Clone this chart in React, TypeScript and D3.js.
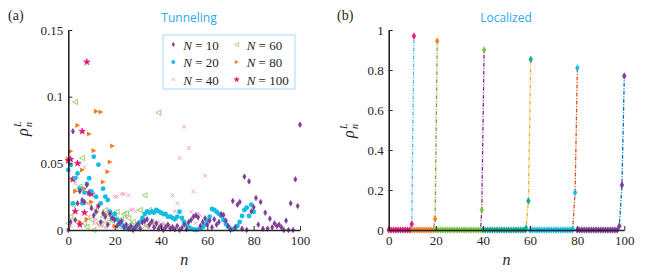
import React, { useEffect, useRef } from "react";
import * as d3 from "d3";

// panel (a): rho_n^L for n = 0..len-1, one list per N
const legendN = ["10", "20", "40", "60", "80", "100"];

const tunnelN10 = [
  0.0, 0.006, 0.074, 0.0075, 0.02, 0.029, 0.0225, 0.021, 0.0337, 0.0275,
  0.0163, 0.011, 0.0137, 0.018, 0.006, 0.0125, 0.01, 0.004, 0.012, 0.0088,
  0.0075, 0.003, 0.005, 0.0068, 0.002, 0.004, 0.001, 0.003, 0.0, 0.002,
  0.0045, 0.001, 0.006, 0.0068, 0.008, 0.004, 0.0065, 0.002, 0.005, 0.001,
  0.003, 0.0, 0.002, 0.004, 0.001, 0.002, 0.0005, 0.003, 0.0, 0.0015,
  0.004, 0.0005, 0.006, 0.0075, 0.01, 0.011, 0.0095, 0.003, 0.006, 0.0088,
  0.004, 0.007, 0.002, 0.008, 0.004, 0.006, 0.0118, 0.0113, 0.007, 0.003,
  0.0, 0.0218, 0.002, 0.019, 0.021, 0.001, 0.04, 0.0, 0.0365, 0.014,
  0.017, 0.024, 0.004, 0.021, 0.001, 0.013, 0.001, 0.0085, 0.002, 0.005,
  0.003, 0.004, 0.002, 0.0, 0.007, 0.0, 0.02, 0.0, 0.038, 0.018, 0.079,
];
const tunnelN20 = [
  0.045, 0.0488, 0.02, 0.0388, 0.0425, 0.031, 0.02, 0.028, 0.0345, 0.0388,
  0.029, 0.055, 0.025, 0.049, 0.02, 0.031, 0.025, 0.0225, 0.0137, 0.0088,
  0.012, 0.008, 0.006, 0.004, 0.003, 0.0013, 0.001, 0.0005, 0.0015, 0.002,
  0.004, 0.006, 0.009, 0.012, 0.014, 0.013, 0.014, 0.013, 0.015, 0.014,
  0.013, 0.012, 0.012, 0.01, 0.01, 0.009, 0.008, 0.01, 0.0137, 0.009,
  0.006, 0.004, 0.002, 0.001, 0.0005, 0.0, 0.0005, 0.001, 0.002, 0.004,
  0.007, 0.01, 0.0158, 0.015, 0.0137, 0.012, 0.0105, 0.0075, 0.0045, 0.0025,
  0.001, 0.0005, 0.001, 0.003, 0.006, 0.0105, 0.015, 0.0167, 0.0105, 0.019,
  0.0137,
];
const tunnelN40 = [
  0.0, 0.003, 0.02, 0.035, 0.04, 0.05, 0.03, 0.047, 0.02, 0.01,
  0.017, 0.005, 0.008, 0.004, 0.003, 0.006, 0.002, 0.015, 0.008, 0.012,
  0.025, 0.025, 0.006, 0.027, 0.027, 0.01, 0.026, 0.015, 0.0155, 0.014,
  0.002, 0.004, 0.001, 0.006, 0.003, 0.002, 0.005, 0.003, 0.004, 0.006,
  0.003, 0.005, 0.004, 0.002, 0.003, 0.026, 0.014, 0.02, 0.054, 0.007,
  0.0775, 0.004, 0.0613, 0.0137, 0.029, 0.005, 0.0125, 0.011, 0.003, 0.0407,
  0.006,
];
const tunnelN60 = [
  0.005, 0.01, 0.0187, 0.096, 0.03, 0.0325, 0.054, 0.005, 0.0025, 0.02,
  0.008, 0.0, 0.015, 0.005, 0.004, 0.01, 0.015, 0.006, 0.011, 0.007,
  0.009, 0.0137, 0.003, 0.008, 0.012, 0.0125, 0.009, 0.004, 0.006, 0.002,
  0.004, 0.015, 0.005, 0.026, 0.003, 0.015, 0.006, 0.004, 0.002, 0.088,
  0.003,
];
const tunnelN80 = [
  0.053, 0.059, 0.038, 0.029, 0.0785, 0.006, 0.045, 0.031, 0.008, 0.072,
  0.021, 0.0595, 0.089, 0.0175, 0.0885, 0.036, 0.012, 0.0437, 0.051, 0.063,
  0.003,
];
const tunnelN100 = [
  0.052, 0.053, 0.038, 0.014, 0.05, 0.004, 0.074, 0.013, 0.126, 0.028, 0.027,
];

// panel (b): each block is flat (zero) from its start, then rises at its tail
const locStart = [0, 10, 20, 40, 60, 80];
const locTailX = [
  [9.8, 10.7],
  [19.7, 20.6],
  [39.5, 40.5],
  [58.3, 59.3, 60.3],
  [78.1, 79.1, 80.1],
  [97.9, 99, 100],
];
const locTailY = [
  [0.03, 0.97],
  [0.055, 0.945],
  [0.1, 0.9],
  [0.01, 0.145, 0.853],
  [0.005, 0.187, 0.81],
  [0.02, 0.225, 0.77],
];

const yTicksA = [0, 0.05, 0.1, 0.15];
const yTicksB = [0, 0.2, 0.4, 0.6, 0.8, 1];
const xTicks = [0, 20, 40, 60, 80, 100];

const serif = "'Liberation Serif', 'Times New Roman', 'DejaVu Serif', serif";
const sans = "'Open Sans', 'Noto Sans', sans-serif";
const ink = "#262626";

const C = {
  purple: "#7E3A96",
  cyan: "#12BDE8",
  pink: "#F3A0C2",
  green: "#8CCB5E",
  orange: "#F47B20",
  magenta: "#E2126F",
};
const locMarker = ["#E5197A", "#F28123", "#7CC242", "#0FA991", "#14BDE8", "#7F3A98"];
const locLine = ["#4DBEEE", "#77AC30", "#7E2F8E", "#EDB120", "#D95319", "#0072BD"];

const diamond = d3.symbol(d3.symbolDiamond, 9)();
const diamondB = d3.symbol(d3.symbolDiamond, 12)();
const hexagram = d3.symbol(d3.symbolStar, 13)();
const triRight = "M-2.2,-2.6L2.6,0L-2.2,2.6Z";
const triLeft = "M2.2,-2.6L-2.6,0L2.2,2.6Z";
const cross = "M-1.8,-1.8L1.8,1.8M-1.8,1.8L1.8,-1.8";

type Style = { d: string; fill: string; stroke: string; sw: number };
const styles: Record<string, Style> = {
  "10": { d: diamond, fill: C.purple, stroke: C.purple, sw: 0.6 },
  "20": { d: d3.symbol(d3.symbolCircle, 18)(), fill: C.cyan, stroke: "none", sw: 0 },
  "40": { d: cross, fill: "none", stroke: C.pink, sw: 1 },
  "60": { d: triLeft, fill: "none", stroke: C.green, sw: 0.9 },
  "80": { d: triRight, fill: C.orange, stroke: "none", sw: 0 },
  "100": { d: hexagram, fill: C.magenta, stroke: C.magenta, sw: 0.6 },
};

const xA = d3.scaleLinear().domain([0, 100]).range([68.3, 300]);
const yA = d3.scaleLinear().domain([0, 0.15]).range([230, 30]);
const xB = d3.scaleLinear().domain([0, 100]).range([388.7, 624.3]);
const yB = d3.scaleLinear().domain([0, 1]).range([230, 30]);

function Axes({ x, y, yTicks, yFmt }: any) {
  const xRef = useRef<SVGGElement>(null);
  const yRef = useRef<SVGGElement>(null);
  useEffect(() => {
    const ax = d3.axisBottom(x).tickValues(xTicks).tickSizeInner(-4).tickSizeOuter(0).tickPadding(6);
    const ay = d3.axisLeft(y).tickValues(yTicks).tickSizeInner(-4).tickSizeOuter(0).tickPadding(5).tickFormat(yFmt);
    for (const [ref, a] of [[xRef, ax], [yRef, ay]] as any) {
      const g = d3.select(ref.current);
      g.call(a);
      g.attr("font-family", serif).attr("font-size", 13);
      g.select(".domain").attr("stroke", ink).attr("stroke-width", 1.6);
      g.selectAll(".tick line").attr("stroke", ink).attr("stroke-width", 1);
      g.selectAll(".tick text").attr("fill", ink);
    }
  }, [x, y, yTicks, yFmt]);
  return (
    <g>
      <g ref={xRef} transform={`translate(0,${y(0)})`} />
      <g ref={yRef} transform={`translate(${x(0)},0)`} />
    </g>
  );
}

function YLabel({ cx, cy }: { cx: number; cy: number }) {
  return (
    <text transform={`translate(${cx},${cy}) rotate(-90)`} fontFamily={serif} fontStyle="italic" fill={ink}>
      <tspan x={-8} y={0} fontSize={16}>ρ</tspan>
      <tspan x={1} y={4} fontSize={10}>n</tspan>
      <tspan x={1} y={-7} fontSize={10}>L</tspan>
    </text>
  );
}

export default function App() {
  const tunnel: [string, number[]][] = [
    ["60", tunnelN60],
    ["40", tunnelN40],
    ["80", tunnelN80],
    ["100", tunnelN100],
    ["20", tunnelN20],
    ["10", tunnelN10],
  ];

  const blocks = locStart.map((s, i) => {
    const flatEnd = Math.ceil(locTailX[i][0]) - 1;
    const pts: [number, number][] = d3.range(s, flatEnd + 1).map((n) => [n, 0]);
    locTailX[i].forEach((tx, j) => pts.push([tx, locTailY[i][j]]));
    return pts;
  });
  const lineB = d3
    .line<[number, number]>()
    .x((d) => xB(d[0]))
    .y((d) => yB(d[1]));

  const fmtA = (d: number) => (d === 0 ? "0" : String(d));
  const fmtB = (d: number) => String(d);

  return (
    <svg width={654} height={273} style={{ position: "absolute", left: 0, top: 0, background: "#fff" }}>
      {/* panel labels and titles */}
      <text x={8} y={20} fontFamily={serif} fontSize={14} fill={ink}>(a)</text>
      <text x={337} y={20} fontFamily={serif} fontSize={14} fill={ink}>(b)</text>
      <text x={189} y={22} textAnchor="middle" fontFamily={sans} fontSize={12} fill="#2AA9EE">Tunneling</text>
      <text x={506} y={22} textAnchor="middle" fontFamily={sans} fontSize={12} fill="#2AA9EE">Localized</text>

      {/* panel (a) */}
      <g>
        {tunnel.map(([key, vals]) => {
          const st = styles[key];
          return (
            <g key={key}>
              {vals.map((v, n) => (
                <path
                  key={n}
                  d={st.d}
                  transform={`translate(${xA(n)},${yA(v)})`}
                  fill={st.fill}
                  stroke={st.stroke}
                  strokeWidth={st.sw}
                />
              ))}
            </g>
          );
        })}
        <Axes x={xA} y={yA} yTicks={yTicksA} yFmt={fmtA} />
        <YLabel cx={28} cy={128} />
        <text x={xA(50)} y={265} textAnchor="middle" fontFamily={serif} fontStyle="italic" fontSize={16} fill={ink}>n</text>

        {/* legend */}
        <rect x={163} y={35} width={132} height={54} fill="#fff" stroke="#A9D9F2" strokeWidth={1} />
        {legendN.map((k, i) => {
          const col = i < 3 ? 0 : 1;
          const row = i % 3;
          const mx = col === 0 ? 173.3 : 236.7;
          const my = 44.5 + row * 17.5;
          const st = styles[k];
          return (
            <g key={k}>
              <path d={st.d} transform={`translate(${mx},${my}) scale(0.8)`} fill={st.fill} stroke={st.stroke} strokeWidth={st.sw} />
              <text x={mx + 10} y={my + 5} fontFamily={serif} fontSize={13} fill={ink}>
                <tspan fontStyle="italic">N</tspan>
                {" = " + k}
              </text>
            </g>
          );
        })}
      </g>

      {/* panel (b) */}
      <g>
        {blocks.map((pts, i) => (
          <g key={i}>
            <path d={lineB(pts) || ""} fill="none" stroke={locLine[i]} strokeWidth={1.3} strokeDasharray="4,1.5,1,1.5" />
            {pts.map((p, j) => (
              <path
                key={j}
                d={diamondB}
                transform={`translate(${xB(p[0])},${yB(p[1])})`}
                fill={locMarker[i]}
                stroke={locMarker[i]}
                strokeWidth={0.6}
              />
            ))}
          </g>
        ))}
        <Axes x={xB} y={yB} yTicks={yTicksB} yFmt={fmtB} />
        <YLabel cx={354} cy={130} />
        <text x={xB(50)} y={265} textAnchor="middle" fontFamily={serif} fontStyle="italic" fontSize={16} fill={ink}>n</text>
      </g>
    </svg>
  );
}
